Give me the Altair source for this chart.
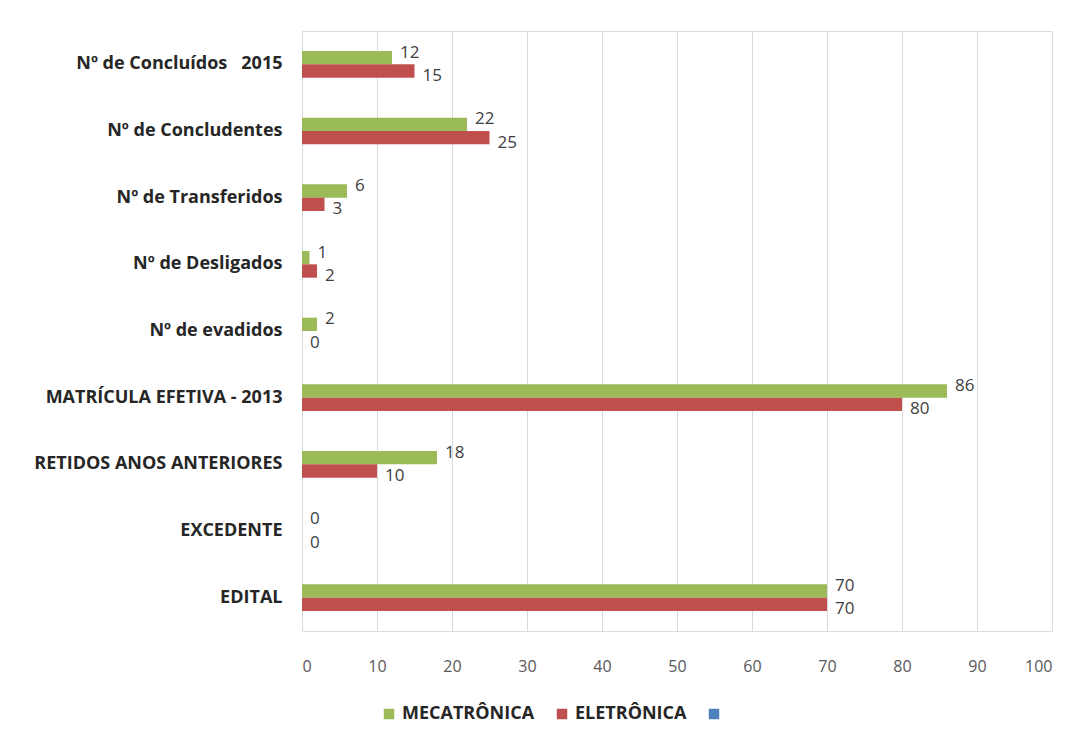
import altair as alt
import pandas as pd

categories = [
    "Nº de Concluídos\u00a0\u00a0 2015",
    "Nº de Concludentes",
    "Nº de Transferidos",
    "Nº de Desligados",
    "Nº de evadidos",
    "MATRÍCULA EFETIVA - 2013",
    "RETIDOS ANOS ANTERIORES",
    "EXCEDENTE",
    "EDITAL",
]
mecatronica = [12, 22, 6, 1, 2, 86, 18, 0, 70]
eletronica = [15, 25, 3, 2, 0, 80, 10, 0, 70]
series = ["MECATRÔNICA", "ELETRÔNICA"]
legend_domain = ["MECATRÔNICA", "ELETRÔNICA", " "]
legend_colors = ["#9BBB59", "#C0504D", "#4F81BD"]
x_ticks = [0, 10, 20, 30, 40, 50, 60, 70, 80, 90, 100]

rows = []
for c, m, e in zip(categories, mecatronica, eletronica):
    rows.append({"cat": c, "serie": series[0], "v": m})
    rows.append({"cat": c, "serie": series[1], "v": e})
df = pd.DataFrame(rows)

y_enc = alt.Y(
    "cat:N",
    sort=categories,
    title=None,
    scale=alt.Scale(paddingInner=0.6, paddingOuter=0.3),
    axis=alt.Axis(
        domain=False,
        ticks=False,
        labelFont="Open Sans",
        labelFontWeight="bold",
        labelFontSize=18,
        labelColor="#262626",
        labelPadding=20,
        labelLimit=400,
        minExtent=294,
        maxExtent=294,
    ),
)
yoff = alt.YOffset("serie:N", sort=series, scale=alt.Scale(domain=series))
x_enc = alt.X(
    "v:Q",
    title=None,
    scale=alt.Scale(domain=[0, 100], nice=False),
    axis=alt.Axis(
        values=x_ticks,
        domain=False,
        ticks=False,
        grid=True,
        gridColor="#d9d9d9",
        labelFont="Open Sans",
        labelFontSize=16,
        labelColor="#595959",
        labelPadding=27,
    ),
)

bars = alt.Chart(df).mark_bar().encode(
    x=x_enc,
    y=y_enc,
    yOffset=yoff,
    color=alt.Color(
        "serie:N",
        scale=alt.Scale(domain=legend_domain, range=legend_colors),
        legend=alt.Legend(
            title=None,
            orient="none",
            legendX=78,
            legendY=674,
            direction="horizontal",
            symbolType="square",
            symbolSize=110,
            symbolStrokeWidth=0,
            labelFont="Open Sans",
            labelFontWeight="bold",
            labelFontSize=18,
            labelColor="#262626",
            columnPadding=18,
        ),
    ),
)

label_common = dict(align="left", baseline="middle", dx=8, font="Open Sans", fontSize=17, color="#404040")

labels_m = alt.Chart(df[df.serie == series[0]]).mark_text(dy=-5, **label_common).encode(
    x="v:Q",
    y=alt.Y("cat:N", sort=categories),
    yOffset=yoff,
    text="v:Q",
)
labels_e = alt.Chart(df[df.serie == series[1]]).mark_text(dy=5, **label_common).encode(
    x="v:Q",
    y=alt.Y("cat:N", sort=categories),
    yOffset=yoff,
    text="v:Q",
)

chart = (
    alt.layer(bars, labels_m, labels_e)
    .properties(width=750, height=600, padding={"left": 0, "top": 23, "right": 20, "bottom": 5})
    .configure_view(stroke=None)
    .configure(background="white")
)

chart.save("out.html", embed_options={"renderer": "svg", "actions": False})
